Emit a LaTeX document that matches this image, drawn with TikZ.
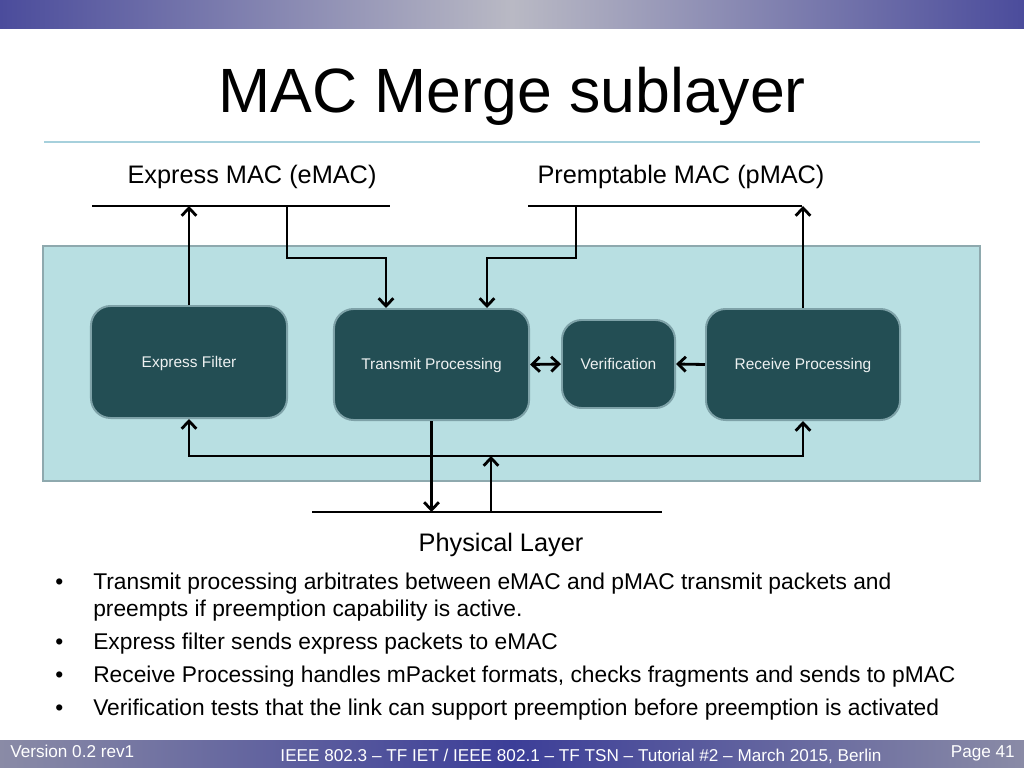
\documentclass[tikz,border=0pt]{standalone}
\usepackage{fontspec}
\setmainfont{Liberation Sans}
\usetikzlibrary{positioning,arrows.meta}

\definecolor{bandblue}{HTML}{4B4C9C}
\definecolor{bandlight}{HTML}{B9B9C4}
\definecolor{footgray}{HTML}{8A8BA6}
\definecolor{footblue}{HTML}{3C3E98}
\definecolor{rulecol}{HTML}{A6D0DC}
\definecolor{panelfill}{HTML}{B8DFE2}
\definecolor{paneledge}{HTML}{8EA9AE}
\definecolor{boxfill}{HTML}{234E54}
\definecolor{boxedge}{HTML}{7EA2A8}

\begin{document}
\begin{tikzpicture}[x=0.025cm,y=-0.025cm,
  blk/.style={draw=boxedge,line width=1.4pt,fill=boxfill,rounded corners=14pt,
    text=white!92!boxfill,font=\fontsize{11}{13}\selectfont,inner sep=0pt,
    text height=0.72em,text depth=0pt},
  bar/.style={line width=2pt},
  link/.style={line width=2pt,-{Straight Barb[length=5.5pt,width=10.5pt,line width=2pt]}},
  dlink/.style={line width=2pt,{Straight Barb[length=5.5pt,width=10.5pt,line width=2pt]}-{Straight Barb[length=5.5pt,width=10.5pt,line width=2pt]}},
  head/.style={font=\fontsize{18}{21}\selectfont},
  txt/.style={font=\fontsize{16.2}{19}\selectfont,anchor=base west,inner sep=0pt},
  foot/.style={font=\fontsize{12.2}{14}\selectfont,text=white,inner sep=0pt}]
\useasboundingbox (0,0) rectangle (1024,768);
% slide frame
\shade[left color=bandblue,right color=bandblue,middle color=bandlight] (0,0) rectangle (1024,29);
\shade[left color=footgray,right color=footgray,middle color=footblue] (0,740) rectangle (1024,768);
\node[font=\fontsize{44.5}{48}\selectfont] (title) at (512,96) {MAC Merge sublayer};
\draw[rulecol,line width=1.2pt] (44,142) -- (980,142);

% upper MACs
\node[head] (emac) at (252,177) {Express MAC (eMAC)};
\node[head] (pmac) at (681,177) {Premptable MAC (pMAC)};
\coordinate (emacL) at (92,206);  \coordinate (emacR) at (390,206);
\coordinate (pmacL) at (528,206); \coordinate (pmacR) at (802,206);
\coordinate (etap) at (287,206);  \coordinate (ptap) at (576,206);
\draw[bar] (emacL) -- (emacR);
\draw[bar] (pmacL) -- (pmacR);

% sublayer
\draw[draw=paneledge,fill=panelfill,line width=1.6pt] (43,246) rectangle (980,481);
\node[blk,minimum width=4.9cm,minimum height=2.8cm] (ef) at (189,362) {Express Filter};
\node[blk,minimum width=4.875cm,minimum height=2.775cm] (tp) at (431.5,364.5) {Transmit Processing};
\node[blk,minimum width=2.825cm,minimum height=2.2cm] (vf) at (618.5,364) {Verification};
\node[blk,minimum width=4.85cm,minimum height=2.775cm] (rp) at (803,364.5) {Receive Processing};

% physical layer
\coordinate (phyL) at (312,512); \coordinate (phyR) at (662,512);
\coordinate (phytap) at (491,512); \coordinate (bustap) at (491,456);
\draw[bar] (phyL) -- (phyR);
\node[head] (phy) at (501,545) {Physical Layer};

% connections
\draw[link] (ef.north) -- (ef.north |- emacL);
\draw[link] (etap) |- (386,258) -- (386,0 |- tp.north);
\draw[link] (ptap) |- (487,258) -- (487,0 |- tp.north);
\draw[link] (rp.north) -- (rp.north |- pmacL);
\draw[dlink] (tp.east) -- (vf.west);
\draw[link] (rp.west) -- (vf.east);
\draw[dlink] (ef.south) |- (bustap) -| (rp.south);
\draw[link] (tp.south) -- (tp.south |- phyL);
\draw[link] (phytap) -- (bustap);

% notes
\foreach \y in {589,649,682,715}
  \node[txt] at (55,\y) {\textbullet};
\node[txt] (n1) at (93,589) {Transmit processing arbitrates between eMAC and pMAC transmit packets and};
\node[txt] (n1b) at (93,616) {preempts if preemption capability is active.};
\node[txt] (n2) at (93,649) {Express filter sends express packets to eMAC};
\node[txt] (n3) at (93,682) {Receive Processing handles mPacket formats, checks fragments and sends to pMAC};
\node[txt] (n4) at (93,715) {Verification tests that the link can support preemption before preemption is activated};

% footer
\node[foot,anchor=base west] (ver) at (10,757) {Version 0.2 rev1};
\node[foot,anchor=base] (conf) at (581,761) {IEEE 802.3 -- TF IET / IEEE 802.1 -- TF TSN -- Tutorial \#2 -- March 2015, Berlin};
\node[foot,anchor=base east] (page) at (1015,757) {Page 41};
\end{tikzpicture}
\end{document}
